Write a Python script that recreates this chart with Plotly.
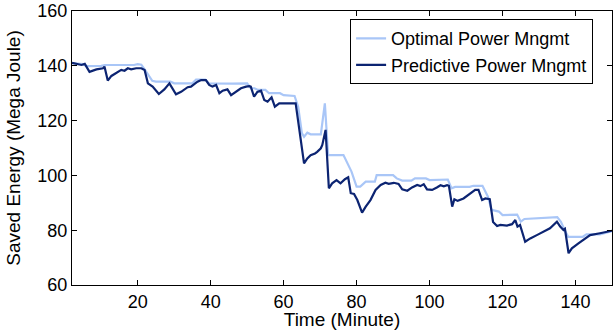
import plotly.graph_objects as go

# ---- data ----
opt_t = [2, 4, 5, 6, 10, 11, 19, 20, 21, 22, 24, 25, 29, 30, 35, 36, 38.5, 39.5, 43, 46, 50, 51, 52, 53,
         55, 56, 59, 60, 63, 63.5, 64, 65, 65.6, 66.5, 67.4, 70.2, 71.3, 72.2, 76.4, 78.6, 80, 81, 82.5,
         85, 85.5, 90, 91, 92.5, 95, 96, 99, 100, 105, 106, 107, 111, 112, 114.5, 116, 117, 119, 120,
         124, 125, 126, 135, 136, 137, 138, 142, 143, 146.7, 149, 150]
opt_v = [141, 140.8, 140.6, 139.9, 140.0, 140.3, 140.3, 140.6, 140.4, 138.5, 134.5, 134.2, 134.2, 133.6,
         133.6, 135, 135, 133.6, 133.4, 133.5, 133.6, 131.8, 131.8, 131.2, 131.2, 130, 130, 129.3, 129,
         126.9, 125, 115.4, 114.1, 115.6, 115, 115, 126.3, 107.4, 107.4, 101.4, 95.9, 95.9, 97.7, 97.7,
         100.1, 100.1, 98.9, 98.1, 98.1, 98.9, 98.9, 98.3, 98.5, 95.3, 95.8, 95.8, 96.2, 96.2, 92.2, 87.4,
         86.8, 85.5, 85.7, 83.1, 84.1, 84.8, 83.1, 80.1, 77.6, 77.6, 78.5, 78.5, 79.5, 79.7]

pred_t = [2, 3.2, 4.6, 5.5, 6.8, 8.7, 10.5, 10.9, 11.8, 12.8, 14.1, 15.5, 16.4, 17.3, 18.2, 19.6, 21,
          21.9, 22.8, 24.1, 25.8, 27.3, 28.7, 29.6, 30.5, 31.9, 33.7, 34.6, 36.4, 37.4, 38.7, 39.6, 40.5,
          41.5, 42.4, 43.3, 44.6, 45.6, 46.9, 48.3, 49.7, 50.6, 51, 51.9, 52.8, 53.8, 54.7, 55.6, 56.7,
          57.6, 58.8, 60.1, 62, 63.3, 65.6, 66.5, 67.4, 68.6, 69.2, 70.2, 70.6, 71.5, 72.4, 73.3, 74.5,
          75.6, 76.8, 77.7, 78.4, 79.3, 80.2, 81.5, 82.5, 83.8, 85.2, 86.6, 87.9, 88.8, 90.2, 91.5, 92.5,
          93.9, 95.2, 96.6, 97.5, 98.4, 99.3, 100.7, 102, 103, 103.9, 104.8, 105.3, 106.2, 106.8, 107.7,
          109.3, 111.2, 112.5, 113.4, 114.4, 115.3, 116.5, 117.4, 118.5, 119.4, 121.2, 122.6, 123.5,
          124.1, 124.8, 126.2, 127.6, 129.4, 131.2, 133, 134.9, 135.8, 136.7, 137.1, 138.1, 139, 140.8,
          142.6, 144, 146.7, 149, 150]
pred_v = [141.1, 140.7, 140.3, 140.7, 137.8, 138.7, 139.1, 139.7, 134.6, 136.3, 137.5, 138.5, 138.2,
          139.1, 138.7, 139.1, 139.1, 138.5, 133.6, 132.4, 129.7, 131.4, 133.6, 131.8, 129.6, 130.5,
          132.2, 132.4, 134.2, 134.8, 134.8, 133, 132.4, 133, 130, 130.9, 131.4, 129.3, 130.5, 131.8,
          132.4, 132.6, 132.4, 128.7, 130.5, 130.9, 127.5, 126.9, 128.5, 125.1, 126.3, 126.3, 126.5,
          126.3, 104.4, 106.2, 107.4, 108, 108.6, 109.9, 111.1, 116.6, 95.3, 97.1, 98.3, 97.1, 98.6,
          99.3, 93.5, 93.2, 91, 86.4, 88.6, 91, 94.7, 96.5, 97.3, 96.9, 97.3, 96.9, 94.9, 94.4, 95.6,
          96.5, 96.1, 96.8, 94.9, 94.7, 95.6, 96.4, 96, 96.4, 96.2, 88.6, 91.3, 90.7, 91.6, 93.5, 94.7,
          94.7, 91, 91.6, 91.3, 83, 81.5, 81.9, 81.7, 82.2, 83.7, 81.3, 81.9, 75.8, 77, 78.2, 79.5,
          80.7, 83.1, 81.3, 80.1, 80.5, 71.6, 73.4, 75.2, 77, 78.2, 78.9, 79.5, 79.8]

series_names = ["Optimal Power Mngmt", "Predictive Power Mngmt"]
x_ticks = [20, 40, 60, 80, 100, 120, 140]
y_ticks = [60, 80, 100, 120, 140, 160]

FONT = "Liberation Sans, Arial, sans-serif"

fig = go.Figure()
fig.add_trace(go.Scatter(x=opt_t, y=opt_v, mode="lines", name=series_names[0],
                         line=dict(color="#a9c6f7", width=2.2)))
fig.add_trace(go.Scatter(x=pred_t, y=pred_v, mode="lines", name=series_names[1],
                         line=dict(color="#0c2472", width=2.2)))

axis_common = dict(showline=True, linecolor="black", linewidth=1, mirror="ticks",
                   ticks="inside", ticklen=5, tickcolor="black", showgrid=False,
                   zeroline=False, automargin=False, ticklabeloverflow="allow",
                   tickfont=dict(size=18, color="black", family=FONT))

fig.update_xaxes(range=[2, 150], tickvals=x_ticks, ticklabelstandoff=0,
                 title=dict(text="Time (Minute)", font=dict(size=19, color="black", family=FONT),
                            standoff=2),
                 **axis_common)
fig.update_yaxes(range=[60, 160], tickvals=y_ticks, ticklabelstandoff=0,
                 title=dict(text="Saved Energy (Mega Joule)", font=dict(size=19, color="black", family=FONT),
                            standoff=11),
                 **axis_common)

fig.update_layout(
    width=616, height=330,
    margin=dict(l=72, r=4, t=11, b=45),
    paper_bgcolor="white", plot_bgcolor="white",
    font=dict(family=FONT, color="black"),
    showlegend=True,
    legend=dict(x=0.965, y=0.97, xanchor="right", yanchor="top",
                bgcolor="white", bordercolor="black", borderwidth=1,
                font=dict(size=18, color="black", family=FONT),
                tracegroupgap=0, itemwidth=30),
)

# remove the default 8px page margin so the figure fills the 616x330 window exactly
fig.write_html("out.html", config={"displayModeBar": False},
               post_script="document.body.style.margin='0';")
